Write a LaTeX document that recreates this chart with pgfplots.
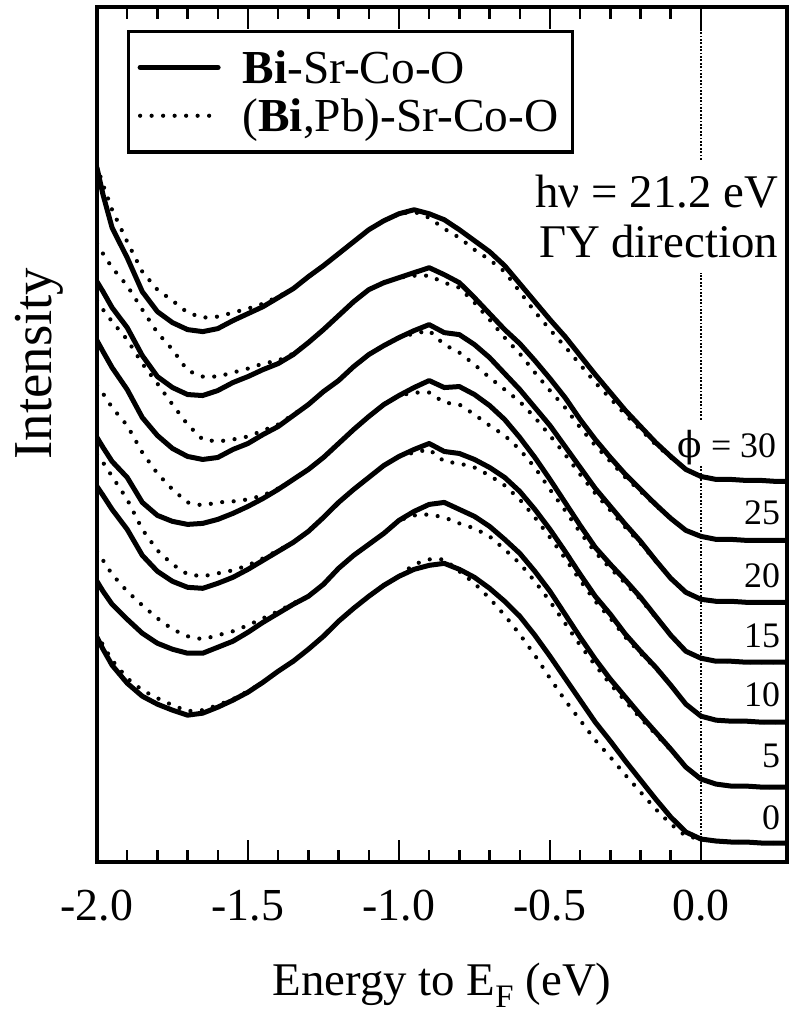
\documentclass[border=0pt]{standalone}
\usepackage{fontspec}
\setmainfont{Liberation Serif}
\newfontfamily\phifont{DejaVu Serif}
\usepackage{pgfplots}
\usepackage{pgfplotstable}
\pgfplotsset{compat=1.18}

\pgfplotstableread{
E s30 s25 s20 s15 s10 s5 s0
-2.00 695 581 522 425 376 281 225
-1.98 668 571 511 415 367 271 213
-1.95 635 555 495 401 353 258 197
-1.90 605 535 473 385 333 243 179
-1.85 571 507 445 360 307 229 166
-1.80 551 486 427 347 291 219 158
-1.75 540 475 414 341 281 213 152
-1.70 533 468 406 338 275 209 147
-1.65 531 467 403 339 274 209 149
-1.60 534 472 405 343 279 215 155
-1.55 542 480 413 349 285 221 162
-1.50 549 486 419 356 293 230 170
-1.45 556 493 428 364 302 240 180
-1.40 565 499 436 373 311 249 191
-1.35 574 508 447 383 320 258 201
-1.30 586 520 458 393 331 266 213
-1.25 597 533 471 405 345 278 226
-1.20 609 547 482 419 360 294 241
-1.15 621 561 496 433 373 307 254
-1.10 633 573 508 446 385 318 266
-1.05 642 580 517 458 397 329 277
-1.00 649 585 525 467 406 342 286
-0.95 653 590 532 475 413 351 293
-0.90 649 595 538 482 419 358 297
-0.85 643 588 530 475 411 360 299
-0.80 633 580 528 476 409 353 293
-0.75 622 565 518 468 403 346 285
-0.70 611 549 505 457 395 336 274
-0.65 597 533 489 443 385 323 261
-0.60 579 519 473 425 371 309 246
-0.55 561 502 455 405 353 291 227
-0.50 543 484 437 383 333 271 206
-0.45 526 465 416 360 311 248 184
-0.40 507 443 395 337 288 225 162
-0.35 488 423 374 315 266 203 140
-0.30 470 405 356 298 248 183 121
-0.25 452 388 338 282 228 165 101
-0.20 436 373 321 265 211 147 82
-0.15 420 358 302 246 195 130 63
-0.10 406 344 284 227 177 113 45
-0.05 393 332 270 211 158 95 30
0.00 386 326 263 204 146 83 23
0.05 383 323 261 201 142 78 21
0.10 383 323 261 201 141 76 20
0.15 382 322 260 200 141 76 20
0.20 382 322 260 200 140 75 19
0.25 381 322 260 200 140 75 19
0.285 381 322 260 200 140 75 19
}\solidtab

\pgfplotstableread{
E d30 d25 d20 d15 d10 d5 d0
-2.00 697 619 562 477 408 311 229
-1.98 678 609 553 469 400 302 217
-1.95 653 595 541 455 386 288 202
-1.90 621 577 523 437 363 271 184
-1.85 591 553 499 410 333 257 172
-1.80 573 530 479 389 312 244 164
-1.75 562 513 458 373 298 233 157
-1.70 550 492 438 360 288 226 151
-1.65 545 486 423 357 286 223 152
-1.60 546 486 421 360 289 227 157
-1.55 550 490 423 361 292 231 163
-1.50 554 494 426 363 297 237 171
-1.45 559 499 432 367 304 244 180
-1.40 566 502 438 374 312 251 191
-1.35 574 509 448 383 320 259 201
-1.30 586 520 458 393 331 266 213
-1.25 597 533 471 405 345 278 226
-1.20 609 547 482 419 360 294 241
-1.15 621 561 496 433 373 307 254
-1.10 633 573 508 446 385 318 266
-1.05 642 580 517 458 397 329 277
-1.00 649 585 525 467 406 342 286
-0.95 651 587 529 470 410 347 298
-0.90 645 587 532 470 413 348 303
-0.85 634 580 518 460 401 345 303
-0.80 625 575 510 458 399 339 291
-0.75 613 560 498 448 395 334 279
-0.70 603 543 485 437 387 326 264
-0.65 591 525 473 427 377 313 247
-0.60 571 509 461 413 363 299 228
-0.55 551 490 445 395 345 281 207
-0.50 533 472 427 373 325 261 184
-0.45 516 455 408 352 304 239 162
-0.40 498 435 388 330 282 217 142
-0.35 480 417 369 310 261 197 122
-0.30 464 401 352 294 244 178 105
-0.25 448 385 335 279 225 161 87
-0.20 433 371 319 263 209 144 70
-0.15 418 357 301 245 194 128 53
-0.10 405 344 284 227 177 112 38
-0.05 393 332 270 211 158 95 26
0.00 386 326 263 204 146 83 23
0.05 383 323 261 201 142 78 21
0.10 383 323 261 201 141 76 20
0.15 382 322 260 200 141 76 20
0.20 382 322 260 200 140 75 19
0.25 381 322 260 200 140 75 19
0.285 381 322 260 200 140 75 19
}\dottab

\tikzset{
  solidline/.style={black, line width=5bp, line join=round, line cap=round},
  dotline/.style={black, line width=4.2bp, line cap=round, dash pattern=on 0bp off 11.5bp},
}

\begin{document}
\begin{tikzpicture}
\begin{axis}[
  at={(0,0)}, anchor=south west,
  scale only axis, width=690bp, height=855bp,
  xmin=-2.0, xmax=0.285, ymin=0, ymax=856,
  xtick={-2,-1.5,-1,-0.5,0},
  xticklabels={-2.0,-1.5,-1.0,-0.5,0.0},
  minor x tick num=4,
  ytick=\empty,
  tick align=inside,
  major tick length=22bp, minor tick length=12bp,
  every tick/.style={black, line width=2.5bp},
  axis line style={line width=3.2bp},
  xticklabel style={font=\fontsize{46}{54}\selectfont, anchor=base, yshift=-58bp},
  xlabel={Energy to E\textsubscript{F} (eV)},
  xlabel style={font=\fontsize{47}{56}\selectfont, at={(axis description cs:0.5,0)}, anchor=base, yshift=-133bp},
  ylabel={Intensity},
  ylabel style={font=\fontsize{55}{64}\selectfont, at={(axis description cs:-0.066,0.583)}, anchor=base},
  legend cell align=left,
  legend image code/.code={\draw[#1] (0bp,0bp) -- (78bp,0bp);},
  legend style={at={(axis description cs:0.0435,0.9735)}, anchor=north west,
    draw=black, line width=3.2bp, fill=white,
    font=\fontsize{47.5}{54}\selectfont,
    inner xsep=9bp, inner ysep=14bp, row sep=4bp,
    nodes={inner sep=5bp},
    /tikz/every odd column/.append style={column sep=17bp}},
]
\addplot[forget plot, black, line width=1.8bp, dash pattern=on 1.8bp off 1.6bp] coordinates {(0,0) (0,396)};
\addplot[forget plot, black, line width=1.8bp, dash pattern=on 1.8bp off 1.6bp] coordinates {(0,443) (0,590)};
\addplot[forget plot, black, line width=1.8bp, dash pattern=on 1.8bp off 1.6bp] coordinates {(0,703) (0,856)};

\addlegendimage{solidline}
\addlegendentry{\textbf{Bi}-Sr-Co-O}
\addlegendimage{dotline}
\addlegendentry{(\textbf{Bi},Pb)-Sr-Co-O}

\addplot[solidline, forget plot] table[x=E, y=s30] {\solidtab};
\addplot[solidline, forget plot] table[x=E, y=s25] {\solidtab};
\addplot[solidline, forget plot] table[x=E, y=s20] {\solidtab};
\addplot[solidline, forget plot] table[x=E, y=s15] {\solidtab};
\addplot[solidline, forget plot] table[x=E, y=s10] {\solidtab};
\addplot[solidline, forget plot] table[x=E, y=s5] {\solidtab};
\addplot[solidline, forget plot] table[x=E, y=s0] {\solidtab};

\addplot[dotline, forget plot] table[x=E, y=d30] {\dottab};
\addplot[dotline, forget plot] table[x=E, y=d25] {\dottab};
\addplot[dotline, forget plot] table[x=E, y=d20] {\dottab};
\addplot[dotline, forget plot] table[x=E, y=d15] {\dottab};
\addplot[dotline, forget plot] table[x=E, y=d10] {\dottab};
\addplot[dotline, forget plot] table[x=E, y=d5] {\dottab};
\addplot[dotline, forget plot] table[x=E, y=d0] {\dottab};

\node[anchor=base east, font=\fontsize{47}{52}\selectfont, inner sep=0pt] at (axis cs:0.256,655) {hν = 21.2 eV};
\node[anchor=base east, font=\fontsize{47}{52}\selectfont, inner sep=0pt] at (axis cs:0.256,605) {ΓY direction};
\node[anchor=base east, font=\fontsize{36}{40}\selectfont, inner sep=0pt] at (axis cs:0.2495,405) {{\phifont ϕ} = 30};
\node[anchor=base east, font=\fontsize{36}{40}\selectfont, inner sep=0pt] at (axis cs:0.2628,338) {25};
\node[anchor=base east, font=\fontsize{36}{40}\selectfont, inner sep=0pt] at (axis cs:0.2628,275) {20};
\node[anchor=base east, font=\fontsize{36}{40}\selectfont, inner sep=0pt] at (axis cs:0.2628,215) {15};
\node[anchor=base east, font=\fontsize{36}{40}\selectfont, inner sep=0pt] at (axis cs:0.2628,156) {10};
\node[anchor=base east, font=\fontsize{36}{40}\selectfont, inner sep=0pt] at (axis cs:0.2628,95) {5};
\node[anchor=base east, font=\fontsize{36}{40}\selectfont, inner sep=0pt] at (axis cs:0.2628,33) {0};
\end{axis}
\pgfresetboundingbox
\path[use as bounding box] (-97bp,-153bp) rectangle (692bp,862bp);
\end{tikzpicture}
\end{document}
